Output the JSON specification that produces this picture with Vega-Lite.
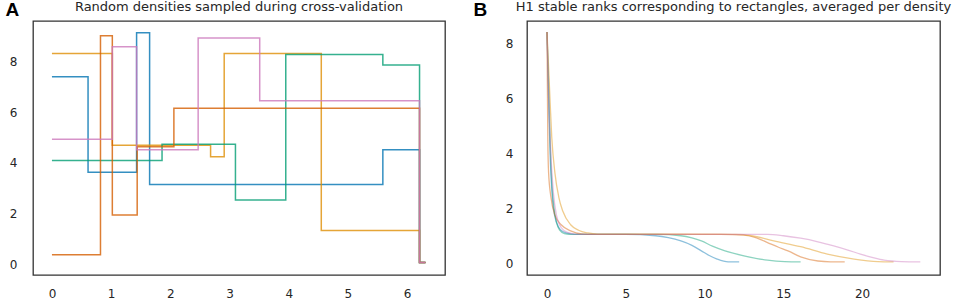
{
  "$schema": "https://vega.github.io/schema/vega-lite/v6.json",
  "padding": {"left": 4, "top": -1, "right": 0, "bottom": 6},
  "spacing": 82,
  "bounds": "flush",
  "datasets": {
    "A": [
      {"s": "d1", "x": 0, "y": 7.40}, {"s": "d1", "x": 0.61, "y": 3.63}, {"s": "d1", "x": 1.43, "y": 9.14}, {"s": "d1", "x": 1.65, "y": 3.15}, {"s": "d1", "x": 5.59, "y": 4.52}, {"s": "d1", "x": 6.21, "y": 0.07}, {"s": "d1", "x": 6.31, "y": 0.07},
      {"s": "d2", "x": 0, "y": 8.32}, {"s": "d2", "x": 1.02, "y": 4.70}, {"s": "d2", "x": 2.68, "y": 4.24}, {"s": "d2", "x": 2.91, "y": 8.32}, {"s": "d2", "x": 4.55, "y": 1.34}, {"s": "d2", "x": 6.21, "y": 0.07}, {"s": "d2", "x": 6.31, "y": 0.07},
      {"s": "d3", "x": 0, "y": 4.10}, {"s": "d3", "x": 1.86, "y": 4.74}, {"s": "d3", "x": 3.10, "y": 2.54}, {"s": "d3", "x": 3.95, "y": 8.28}, {"s": "d3", "x": 5.59, "y": 7.86}, {"s": "d3", "x": 6.21, "y": 0.07}, {"s": "d3", "x": 6.31, "y": 0.07},
      {"s": "d4", "x": 0, "y": 0.38}, {"s": "d4", "x": 0.82, "y": 9.02}, {"s": "d4", "x": 1.02, "y": 1.95}, {"s": "d4", "x": 1.44, "y": 4.64}, {"s": "d4", "x": 2.06, "y": 6.16}, {"s": "d4", "x": 6.21, "y": 0.07}, {"s": "d4", "x": 6.31, "y": 0.07},
      {"s": "d5", "x": 0, "y": 4.94}, {"s": "d5", "x": 1.02, "y": 8.58}, {"s": "d5", "x": 1.43, "y": 4.52}, {"s": "d5", "x": 2.47, "y": 8.93}, {"s": "d5", "x": 3.51, "y": 6.45}, {"s": "d5", "x": 6.21, "y": 0.07}, {"s": "d5", "x": 6.31, "y": 0.07}
    ],
    "B": [
      {"s": "r1", "x": 0, "y": 8.42}, {"s": "r1", "x": 0.1, "y": 6.0}, {"s": "r1", "x": 0.2, "y": 3.9}, {"s": "r1", "x": 0.35, "y": 2.3}, {"s": "r1", "x": 0.5, "y": 1.7}, {"s": "r1", "x": 0.75, "y": 1.3}, {"s": "r1", "x": 1.0, "y": 1.15}, {"s": "r1", "x": 1.5, "y": 1.07}, {"s": "r1", "x": 2, "y": 1.05}, {"s": "r1", "x": 5, "y": 1.05}, {"s": "r1", "x": 6.9, "y": 1.0}, {"s": "r1", "x": 7.7, "y": 0.93}, {"s": "r1", "x": 8.5, "y": 0.81}, {"s": "r1", "x": 9.2, "y": 0.65}, {"s": "r1", "x": 9.8, "y": 0.45}, {"s": "r1", "x": 10.3, "y": 0.28}, {"s": "r1", "x": 10.8, "y": 0.15}, {"s": "r1", "x": 11.5, "y": 0.05}, {"s": "r1", "x": 12.2, "y": 0.05},
      {"s": "r2", "x": 0, "y": 8.42}, {"s": "r2", "x": 0.1, "y": 6.6}, {"s": "r2", "x": 0.2, "y": 4.4}, {"s": "r2", "x": 0.3, "y": 3.0}, {"s": "r2", "x": 0.45, "y": 2.0}, {"s": "r2", "x": 0.6, "y": 1.5}, {"s": "r2", "x": 0.8, "y": 1.2}, {"s": "r2", "x": 1.1, "y": 1.08}, {"s": "r2", "x": 1.6, "y": 1.05}, {"s": "r2", "x": 7, "y": 1.05}, {"s": "r2", "x": 8.5, "y": 1.0}, {"s": "r2", "x": 9.2, "y": 0.92}, {"s": "r2", "x": 9.8, "y": 0.81}, {"s": "r2", "x": 10.5, "y": 0.62}, {"s": "r2", "x": 11.3, "y": 0.45}, {"s": "r2", "x": 12.5, "y": 0.27}, {"s": "r2", "x": 14.0, "y": 0.11}, {"s": "r2", "x": 15.1, "y": 0.06}, {"s": "r2", "x": 16.1, "y": 0.05},
      {"s": "r3", "x": 0, "y": 8.42}, {"s": "r3", "x": 0.05, "y": 4.6}, {"s": "r3", "x": 0.1, "y": 3.3}, {"s": "r3", "x": 0.25, "y": 2.4}, {"s": "r3", "x": 0.5, "y": 1.75}, {"s": "r3", "x": 0.9, "y": 1.4}, {"s": "r3", "x": 1.5, "y": 1.18}, {"s": "r3", "x": 2.2, "y": 1.07}, {"s": "r3", "x": 3, "y": 1.05}, {"s": "r3", "x": 11, "y": 1.05}, {"s": "r3", "x": 12.5, "y": 1.02}, {"s": "r3", "x": 13.3, "y": 0.92}, {"s": "r3", "x": 14.0, "y": 0.75}, {"s": "r3", "x": 14.7, "y": 0.58}, {"s": "r3", "x": 15.3, "y": 0.45}, {"s": "r3", "x": 16.1, "y": 0.23}, {"s": "r3", "x": 17.2, "y": 0.08}, {"s": "r3", "x": 18, "y": 0.05}, {"s": "r3", "x": 18.9, "y": 0.05},
      {"s": "r4", "x": 0, "y": 8.42}, {"s": "r4", "x": 0.15, "y": 6.5}, {"s": "r4", "x": 0.3, "y": 4.6}, {"s": "r4", "x": 0.5, "y": 3.3}, {"s": "r4", "x": 0.75, "y": 2.4}, {"s": "r4", "x": 1.0, "y": 1.9}, {"s": "r4", "x": 1.5, "y": 1.4}, {"s": "r4", "x": 2.0, "y": 1.2}, {"s": "r4", "x": 2.6, "y": 1.1}, {"s": "r4", "x": 3.2, "y": 1.06}, {"s": "r4", "x": 12, "y": 1.05}, {"s": "r4", "x": 13, "y": 1.0}, {"s": "r4", "x": 14.4, "y": 0.81}, {"s": "r4", "x": 16.1, "y": 0.6}, {"s": "r4", "x": 17.8, "y": 0.33}, {"s": "r4", "x": 19.5, "y": 0.15}, {"s": "r4", "x": 21.0, "y": 0.06}, {"s": "r4", "x": 22.0, "y": 0.05},
      {"s": "r5", "x": 0, "y": 8.42}, {"s": "r5", "x": 0.1, "y": 6.1}, {"s": "r5", "x": 0.25, "y": 3.9}, {"s": "r5", "x": 0.4, "y": 2.6}, {"s": "r5", "x": 0.6, "y": 1.75}, {"s": "r5", "x": 0.9, "y": 1.3}, {"s": "r5", "x": 1.3, "y": 1.12}, {"s": "r5", "x": 1.8, "y": 1.06}, {"s": "r5", "x": 2.5, "y": 1.05}, {"s": "r5", "x": 14, "y": 1.05}, {"s": "r5", "x": 15, "y": 1.0}, {"s": "r5", "x": 16.1, "y": 0.91}, {"s": "r5", "x": 17.2, "y": 0.78}, {"s": "r5", "x": 18.2, "y": 0.63}, {"s": "r5", "x": 19.1, "y": 0.48}, {"s": "r5", "x": 19.9, "y": 0.33}, {"s": "r5", "x": 20.7, "y": 0.2}, {"s": "r5", "x": 21.4, "y": 0.11}, {"s": "r5", "x": 22.5, "y": 0.06}, {"s": "r5", "x": 23.7, "y": 0.05}
    ]
  },
  "config": {
    "view": {"stroke": "#333333", "strokeWidth": 1.3},
    "axis": {"domain": false, "ticks": false, "tickSize": 0, "grid": false, "labelFont": "DejaVu Sans", "labelFontSize": 12, "labelColor": "#262626"},
    "title": {"font": "DejaVu Sans", "fontSize": 13, "fontWeight": "normal", "color": "#262626", "anchor": "middle", "offset": -14}
  },
  "resolve": {"scale": {"color": "independent"}},
  "hconcat": [
    {
      "width": 412,
      "height": 254,
      "title": "Random densities sampled during cross-validation",
      "data": {"name": "A"},
      "mark": {"type": "line", "interpolate": "step-after", "strokeWidth": 1.5, "opacity": 0.8},
      "encoding": {
        "x": {"field": "x", "type": "quantitative", "scale": {"domain": [-0.32, 6.64], "nice": false, "zero": false}, "axis": {"title": null, "values": [0, 1, 2, 3, 4, 5, 6], "labelPadding": 13}},
        "y": {"field": "y", "type": "quantitative", "scale": {"domain": [-0.42, 9.6], "nice": false, "zero": false}, "axis": {"title": "A", "values": [0, 2, 4, 6, 8], "labelPadding": 16, "titleAngle": 0, "titleAlign": "left", "titleBaseline": "alphabetic", "titleX": -28, "titleY": -6, "titleFont": "Liberation Sans", "titleFontSize": 19, "titleFontWeight": "bold", "titleColor": "#000000"}},
        "color": {"field": "s", "type": "nominal", "scale": {"domain": ["d1", "d2", "d3", "d4", "d5"], "range": ["#0173B2", "#DE8F05", "#029E73", "#D55E00", "#CC78BC"]}, "legend": null}
      }
    },
    {
      "width": 413,
      "height": 254,
      "title": "H1 stable ranks corresponding to rectangles, averaged per density",
      "data": {"name": "B"},
      "mark": {"type": "line", "interpolate": "monotone", "strokeWidth": 1.3, "opacity": 0.45},
      "encoding": {
        "x": {"field": "x", "type": "quantitative", "scale": {"domain": [-1.27, 24.95], "nice": false, "zero": false}, "axis": {"title": null, "values": [0, 5, 10, 15, 20], "labelPadding": 13}},
        "y": {"field": "y", "type": "quantitative", "scale": {"domain": [-0.43, 8.82], "nice": false, "zero": false}, "axis": {"title": "B", "values": [0, 2, 4, 6, 8], "labelPadding": 14, "titleAngle": 0, "titleAlign": "left", "titleBaseline": "alphabetic", "titleX": -54, "titleY": -6, "titleFont": "Liberation Sans", "titleFontSize": 19, "titleFontWeight": "bold", "titleColor": "#000000"}},
        "color": {"field": "s", "type": "nominal", "scale": {"domain": ["r1", "r2", "r3", "r4", "r5"], "range": ["#0173B2", "#029E73", "#D55E00", "#DE8F05", "#CC78BC"]}, "legend": null}
      }
    }
  ]
}
